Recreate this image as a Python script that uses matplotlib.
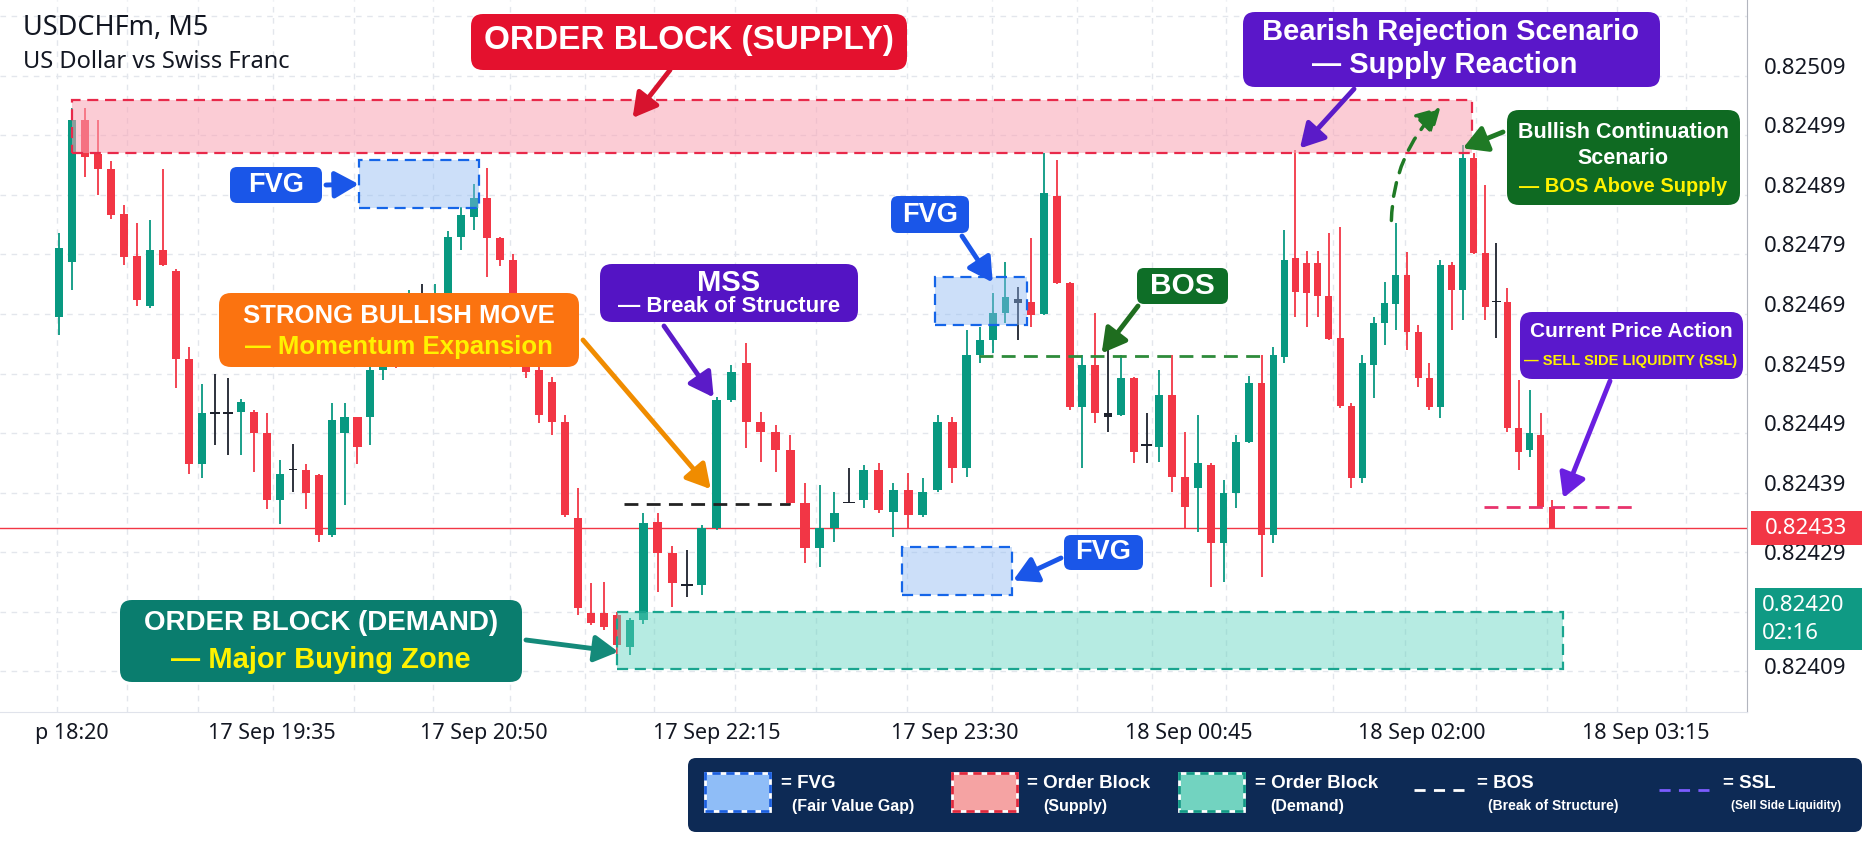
import numpy as np
import matplotlib
matplotlib.use("Agg")
import matplotlib.pyplot as plt
from matplotlib.patches import FancyBboxPatch, Rectangle
from matplotlib.lines import Line2D
from matplotlib.transforms import IdentityTransform, ScaledTranslation, blended_transform_factory

# ---------------- data ----------------
symbol = "USDCHFm, M5"
subtitle = "US Dollar vs Swiss Franc"

opens = [0.824685, 0.824777, 0.825016, 0.824959, 0.824934, 0.824857, 0.824787, 0.824703, 0.824797, 0.824763,
         0.824614, 0.824439, 0.824524, 0.824524, 0.824526, 0.824526, 0.824490, 0.824378, 0.824428, 0.824428,
         0.824420, 0.824319, 0.824490, 0.824517, 0.824517, 0.824596, 0.824630, 0.824620, 0.824660, 0.824660,
         0.824700, 0.824819, 0.824852, 0.824884, 0.824817, 0.824780, 0.824713, 0.824596, 0.824576, 0.824508,
         0.824347, 0.824188, 0.824188, 0.824185, 0.824131, 0.824176, 0.824341, 0.824289, 0.824235, 0.824235,
         0.824331, 0.824545, 0.824607, 0.824508, 0.824492, 0.824461, 0.824373, 0.824297, 0.824331, 0.824374,
         0.824378, 0.824428, 0.824357, 0.824394, 0.824352, 0.824394, 0.824508, 0.824431, 0.824621, 0.824646,
         0.824691, 0.824716, 0.824710, 0.824690, 0.824888, 0.824742, 0.824534, 0.824604, 0.824524, 0.824520,
         0.824582, 0.824470, 0.824467, 0.824554, 0.824416, 0.824398, 0.824436, 0.824305, 0.824389, 0.824475,
         0.824574, 0.824319, 0.824618, 0.824784, 0.824775, 0.824775, 0.824720, 0.824650, 0.824535, 0.824414,
         0.824604, 0.824675, 0.824706, 0.824755, 0.824659, 0.824582, 0.824534, 0.824772, 0.824730, 0.824951,
         0.824792, 0.824711, 0.824710, 0.824498, 0.824461, 0.824487, 0.824366]
highs = [0.824826, 0.825035, 0.825035, 0.825016, 0.824946, 0.824873, 0.824843, 0.824847, 0.824934, 0.824765,
         0.824635, 0.824573, 0.824590, 0.824582, 0.824548, 0.824529, 0.824523, 0.824445, 0.824472, 0.824439,
         0.824421, 0.824540, 0.824540, 0.824517, 0.824607, 0.824650, 0.824670, 0.824730, 0.824740, 0.824740,
         0.824830, 0.824869, 0.824909, 0.824935, 0.824820, 0.824790, 0.824720, 0.824610, 0.824584, 0.824520,
         0.824398, 0.824238, 0.824240, 0.824190, 0.824180, 0.824356, 0.824356, 0.824300, 0.824294, 0.824336,
         0.824550, 0.824604, 0.824641, 0.824525, 0.824503, 0.824487, 0.824406, 0.824403, 0.824391, 0.824431,
         0.824436, 0.824440, 0.824406, 0.824423, 0.824414, 0.824520, 0.824517, 0.824663, 0.824668, 0.824725,
         0.824777, 0.824735, 0.824817, 0.824960, 0.824948, 0.824743, 0.824621, 0.824691, 0.824641, 0.824621,
         0.824584, 0.824524, 0.824596, 0.824621, 0.824492, 0.824520, 0.824440, 0.824411, 0.824487, 0.824586,
         0.824621, 0.824634, 0.824831, 0.824965, 0.824795, 0.824795, 0.824826, 0.824836, 0.824540, 0.824621,
         0.824685, 0.824743, 0.824842, 0.824794, 0.824671, 0.824607, 0.824780, 0.824777, 0.824973, 0.824960,
         0.824906, 0.824809, 0.824733, 0.824579, 0.824562, 0.824524, 0.824378]
lows = [0.824654, 0.824730, 0.824920, 0.824889, 0.824850, 0.824772, 0.824703, 0.824700, 0.824770, 0.824565,
        0.824422, 0.824414, 0.824470, 0.824453, 0.824453, 0.824425, 0.824362, 0.824338, 0.824392, 0.824362,
        0.824308, 0.824316, 0.824369, 0.824438, 0.824470, 0.824580, 0.824600, 0.824610, 0.824630, 0.824640,
        0.824695, 0.824797, 0.824831, 0.824752, 0.824770, 0.824700, 0.824582, 0.824507, 0.824487, 0.824350,
        0.824185, 0.824168, 0.824160, 0.824118, 0.824118, 0.824170, 0.824223, 0.824198, 0.824215, 0.824218,
        0.824327, 0.824543, 0.824465, 0.824441, 0.824425, 0.824369, 0.824272, 0.824265, 0.824307, 0.824372,
        0.824364, 0.824356, 0.824316, 0.824331, 0.824349, 0.824391, 0.824406, 0.824416, 0.824607, 0.824624,
        0.824675, 0.824646, 0.824668, 0.824688, 0.824740, 0.824529, 0.824431, 0.824507, 0.824492, 0.824518,
        0.824440, 0.824440, 0.824441, 0.824391, 0.824331, 0.824324, 0.824232, 0.824240, 0.824364, 0.824473,
        0.824248, 0.824305, 0.824607, 0.824685, 0.824668, 0.824685, 0.824646, 0.824533, 0.824398, 0.824406,
        0.824549, 0.824638, 0.824663, 0.824629, 0.824567, 0.824529, 0.824515, 0.824663, 0.824680, 0.824790,
        0.824680, 0.824649, 0.824492, 0.824428, 0.824450, 0.824364, 0.824330]
closes = [0.824800, 0.825015, 0.824954, 0.824934, 0.824856, 0.824786, 0.824713, 0.824797, 0.824772, 0.824614,
          0.824438, 0.824524, 0.824524, 0.824524, 0.824543, 0.824490, 0.824378, 0.824422, 0.824430, 0.824389,
          0.824319, 0.824512, 0.824517, 0.824467, 0.824596, 0.824630, 0.824620, 0.824660, 0.824660, 0.824700,
          0.824819, 0.824856, 0.824884, 0.824817, 0.824780, 0.824713, 0.824592, 0.824520, 0.824508, 0.824352,
          0.824196, 0.824171, 0.824164, 0.824134, 0.824176, 0.824339, 0.824289, 0.824238, 0.824235, 0.824331,
          0.824545, 0.824592, 0.824508, 0.824492, 0.824461, 0.824373, 0.824297, 0.824331, 0.824356, 0.824374,
          0.824428, 0.824361, 0.824394, 0.824352, 0.824391, 0.824508, 0.824431, 0.824621, 0.824646, 0.824691,
          0.824718, 0.824708, 0.824688, 0.824893, 0.824742, 0.824534, 0.824604, 0.824524, 0.824517, 0.824582,
          0.824458, 0.824470, 0.824554, 0.824416, 0.824366, 0.824440, 0.824305, 0.824389, 0.824475, 0.824574,
          0.824319, 0.824621, 0.824780, 0.824727, 0.824725, 0.824720, 0.824648, 0.824535, 0.824414, 0.824607,
          0.824675, 0.824708, 0.824755, 0.824659, 0.824582, 0.824534, 0.824772, 0.824730, 0.824951, 0.824792,
          0.824701, 0.824711, 0.824498, 0.824458, 0.824490, 0.824366, 0.824330]

xtick_pos = [1.0, 16.4, 32.7, 50.0, 66.2, 84.3, 104.3, 124.4]
xtick_labels = ["p 18:20", "17 Sep 19:35", "17 Sep 20:50", "17 Sep 22:15",
                "17 Sep 23:30", "18 Sep 00:45", "18 Sep 02:00", "18 Sep 03:15"]
ytick_vals = [0.82409, 0.82419, 0.82429, 0.82439, 0.82449, 0.82459,
              0.82469, 0.82479, 0.82489, 0.82499, 0.82509]
last_price = 0.82433
timer_price = 0.82420
timer_text = "02:16"

supply_zone = (0.824960, 0.825050); supply_bars = (1.0, 108.8)
demand_zone = (0.824094, 0.824190); demand_bars = (43.0, 117.0)
fvg_zones = [(0.824868, 0.824948), (0.824671, 0.824752), (0.824218, 0.824299)]
fvg_bars = [(23.1, 32.4), (64.8, 71.7), (62.6, 70.5)]
bos_level = 0.824619; bos_bars = (67.9, 90.4)
mss_level = 0.824371; mss_bars = (43.5, 55.0)
ssl_level = 0.824366; ssl_bars = (109.9, 123.7)

# ---------------- layout ----------------
W, H, DPI = 1870, 841, 100
AX_R, AX_B = 1747, 712
Y_LO, Y_HI = 0.824022, 0.825217
BULL, BEAR, DOJI = "#089981", "#f23645", "#1e222d"

fig = plt.figure(figsize=(W / DPI, H / DPI), dpi=DPI)
fig.patch.set_facecolor("white")
ax = fig.add_axes([0, (H - AX_B) / H, AX_R / W, AX_B / H])
ax.set_facecolor("white")

# uneven bar spacing of the source screenshot
IDX_A = np.array([0, 45, 67, 90, 116], float)
PX_A = np.array([59, 643, 967, 1262, 1552], float)


def _pw(v, xa, ya):
    v = np.asarray(v, float)
    out = np.interp(v, xa, ya)
    s0 = (ya[1] - ya[0]) / (xa[1] - xa[0])
    s1 = (ya[-1] - ya[-2]) / (xa[-1] - xa[-2])
    out = np.where(v < xa[0], ya[0] + (v - xa[0]) * s0, out)
    out = np.where(v > xa[-1], ya[-1] + (v - xa[-1]) * s1, out)
    return out


def fwd(v):
    return _pw(v, IDX_A, PX_A)


def inv(v):
    return _pw(v, PX_A, IDX_A)


ax.set_xscale("function", functions=(fwd, inv))
ax.set_xlim(float(inv(0.0)), float(inv(AX_R)))
ax.set_ylim(Y_LO, Y_HI)

# grid
GRID = "#e3e6ec"
for px in [57, 127, 198, 273, 354, 433, 510, 585, 654, 735, 816, 907, 992, 1077, 1152, 1226,
           1333, 1405, 1476, 1547, 1617, 1686]:
    ax.axvline(float(inv(px)), color=GRID, lw=1, ls=(0, (4, 4)), zorder=0)
for v in ytick_vals + [0.82519]:
    ax.axhline(v, color=GRID, lw=1, ls=(0, (4, 4)), zorder=0)

# candles
o, h, l, c = map(np.array, (opens, highs, lows, closes))
idx = np.arange(len(o))
col = np.where(np.isclose(c, o), DOJI, np.where(c > o, BULL, BEAR))
ax.vlines(idx, l, h, colors=col, lw=1.3, zorder=3)
lo_b = np.minimum(o, c)
hb = np.abs(c - o)
dj = hb < 1e-7
ax.bar(idx, np.where(dj, 2.4e-6, hb), bottom=np.where(dj, lo_b - 1.2e-6, lo_b),
       width=np.where(dj, 0.8, 0.62), color=col, linewidth=0, zorder=4)

# current price line
ax.axhline(last_price, color=BEAR, lw=1.0, zorder=2)


def zone(b, z, fc, ec, alpha):
    ax.add_patch(Rectangle((b[0], z[0]), b[1] - b[0], z[1] - z[0], facecolor=fc, alpha=alpha,
                           edgecolor="none", zorder=5))
    ax.add_patch(Rectangle((b[0], z[0]), b[1] - b[0], z[1] - z[0], facecolor="none",
                           edgecolor=ec, lw=1.6, ls=(0, (5, 3)), zorder=6))


zone(supply_bars, supply_zone, "#f9a3b4", "#e8294a", 0.55)
zone(demand_bars, demand_zone, "#5fd3bf", "#1aa58f", 0.45)
for b, z in zip(fvg_bars, fvg_zones):
    zone(b, z, "#8fbaf3", "#1565e8", 0.45)

ax.hlines(mss_level, *mss_bars, colors="#222222", lw=2, linestyles=(0, (5, 3)), zorder=6)
ax.hlines(bos_level, *bos_bars, colors="#2e8b3a", lw=2, linestyles=(0, (5, 3)), zorder=6)
ax.hlines(ssl_level, *ssl_bars, colors="#e8336d", lw=2, linestyles=(0, (5, 3)), zorder=6)

# axes styling
for s in ("top", "left"):
    ax.spines[s].set_visible(False)
ax.spines["right"].set_color("#b2b5be")
ax.spines["bottom"].set_color("#e0e3eb")
ax.yaxis.tick_right()
ax.set_xticks(xtick_pos)
ax.set_xticklabels(xtick_labels)
ax.set_yticks(ytick_vals)
ax.set_yticklabels([f"{v:.5f}" for v in ytick_vals])
ax.tick_params(axis="x", length=0, pad=8, labelsize=15.5, labelcolor="#131722")
ax.tick_params(axis="y", length=0, pad=12, labelsize=16, labelcolor="#131722")
for lab in ax.get_xticklabels() + ax.get_yticklabels():
    lab.set_fontfamily("Noto Sans")
ticks = ax.yaxis.get_major_ticks()
for v, t in zip(ytick_vals, ticks):
    dy = 0.10
    if abs(v - 0.82429) < 1e-9:
        dy = 0.0
    elif abs(v - 0.82409) < 1e-9:
        dy = 0.05
    t.label2.set_transform(t.label2.get_transform() + ScaledTranslation(0, dy, fig.dpi_scale_trans))

# price badges on the axis
bt = blended_transform_factory(IdentityTransform(), ax.transData)
bh = 34 / 5.96e5
ax.add_patch(Rectangle((1751, last_price - bh / 2), 111, bh, transform=bt, facecolor=BEAR,
                       edgecolor="none", clip_on=False, zorder=10))
ax.text(1806, last_price, f"{last_price:.5f}", transform=bt, ha="center", va="center",
        color="white", fontsize=16, family="Noto Sans", clip_on=False, zorder=11)
gh = 62 / 5.96e5
gc = 0.824178
ax.add_patch(Rectangle((1755, gc - gh / 2), 107, gh, transform=bt, facecolor="#0f9a84",
                       edgecolor="none", clip_on=False, zorder=10))
ax.text(1762, gc + gh * 0.22, f"{timer_price:.5f}", transform=bt, ha="left", va="center",
        color="white", fontsize=16, family="Noto Sans", clip_on=False, zorder=11)
ax.text(1762, gc - gh * 0.24, timer_text, transform=bt, ha="left", va="center",
        color="white", fontsize=16, family="Noto Sans", clip_on=False, zorder=11)

# title
fig.text(23 / W, 1 - 28 / H, symbol, ha="left", va="center", fontsize=19.5, color="#131722",
         family="Noto Sans")
fig.text(23 / W, 1 - 62 / H, subtitle, ha="left", va="center", fontsize=17, color="#131722",
         family="Noto Sans")

ARIAL = ["Liberation Sans", "DejaVu Sans"]
YEL = "#fff200"


def box(x0, y0, x1, y1, color, r=10, z=20):
    p = FancyBboxPatch((x0, H - y1), x1 - x0, y1 - y0, boxstyle=f"round,pad=0,rounding_size={r}",
                       transform=IdentityTransform(), facecolor=color, edgecolor="none", zorder=z)
    fig.add_artist(p)


def txt(x, y, s, size, color="white", fam=ARIAL, ha="center"):
    fig.text(x / W, 1 - y / H, s, ha=ha, va="center", fontsize=size, color=color,
             family=fam, fontweight="bold", zorder=22)


def arrow(tail, head, color, lw=3.5, ls="-", rad=0.0, ms=18, tail_data=False):
    if tail_data:
        kw = dict(xytext=tail, textcoords="data")
    else:
        kw = dict(xytext=(tail[0], H - tail[1]), textcoords="figure pixels")
    ax.annotate("", xy=head, xycoords="data", annotation_clip=False, zorder=15,
                arrowprops=dict(arrowstyle="-|>,head_length=0.8,head_width=0.45", color=color,
                                lw=lw, ls=ls, shrinkA=0, shrinkB=0, mutation_scale=ms,
                                connectionstyle=f"arc3,rad={rad}"), **kw)


# ORDER BLOCK (SUPPLY)
box(471, 14, 907, 70, "#e4112e", r=12)
txt(689, 41, "ORDER BLOCK (SUPPLY)", 24)
arrow((670, 70), (44.2, 0.825019), "#d7132e")

# FVG badges
box(230, 167, 322, 203, "#1a56e8", r=7)
txt(276, 185, "FVG", 19.5)
arrow((326, 185), (23.1, 0.824908), "#1a56e8")
box(891, 196, 969, 233, "#1a56e8", r=7)
txt(930, 215, "FVG", 19.5)
arrow((962, 236), (69.0, 0.824743), "#1a56e8")
box(1064, 535, 1143, 570, "#1a56e8", r=7)
txt(1103, 552, "FVG", 19.5)
arrow((1061, 558), (70.6, 0.824243), "#1a56e8")

# STRONG BULLISH MOVE
box(219, 293, 579, 367, "#fb7310", r=12)
txt(399, 316, "STRONG BULLISH MOVE", 18.5)
txt(399, 347, "— Momentum Expansion", 18.5, color=YEL)
arrow((583, 340), (49.6, 0.824396), "#f08c00")

# MSS
box(600, 264, 858, 322, "#5414c4", r=12)
txt(729, 283, "MSS", 21)
txt(729, 307, "— Break of Structure", 16)
arrow((664, 326), (49.8, 0.824550), "#5b1bc8")

# BOS
box(1137, 268, 1228, 304, "#0e6e27", r=7)
txt(1182, 286, "BOS", 21.5)
arrow((1138, 306), (77.5, 0.824624), "#1f6d1f")

# ORDER BLOCK (DEMAND)
box(120, 600, 522, 682, "#0a7d6e", r=12)
txt(321, 623, "ORDER BLOCK (DEMAND)", 20)
txt(321, 660, "— Major Buying Zone", 21, color=YEL)
arrow((526, 640), (43.1, 0.824123), "#148a7a")

# Bearish rejection
box(1243, 12, 1660, 87, "#5a17c9", r=12)
txt(1450, 32, "Bearish Rejection Scenario", 21)
txt(1445, 65, "— Supply Reaction", 21)
arrow((1354, 89), (93.4, 0.824968), "#5b1bc8")

# Green dashed continuation path
arrow((101.6, 0.824847), (106.0, 0.825037), "#1f7a25", lw=2.5, ls=(0, (4, 3)), rad=-0.2,
      tail_data=True)

# Bullish continuation
box(1507, 110, 1740, 205, "#0f6a22", r=12)
txt(1623, 132, "Bullish Continuation", 15.5)
txt(1623, 159, "Scenario", 15.5)
txt(1623, 186, "— BOS Above Supply", 14.5, color=YEL)
arrow((1503, 132), (108.0, 0.824968), "#1f7a25")

# Current price action
box(1520, 312, 1743, 379, "#5a18cc", r=12)
txt(1631, 332, "Current Price Action", 15)
txt(1631, 361, "— SELL SIDE LIQUIDITY (SSL)", 10.5, color=YEL)
arrow((1610, 381), (117.0, 0.824381), "#6a1fe0")

# legend panel
box(688, 758, 1862, 832, "#0d2a55", r=8, z=20)


def lsq(x0, color, edge):
    for ec, ls in (("white", "-"), (edge, (0, (3, 2)))):
        p = Rectangle((x0, H - 811), 65, 38, transform=IdentityTransform(),
                      facecolor=color if ls == "-" else "none", edgecolor=ec, lw=2, ls=ls, zorder=21)
        fig.add_artist(p)


lsq(705, "#8fbdf7", "#1a5fe0")
lsq(952, "#f5a3a3", "#e0283c")
lsq(1179, "#72d3c0", "#109a85")
fig.add_artist(Line2D([1414, 1469], [H - 790, H - 790], transform=IdentityTransform(), color="white",
                      lw=2, ls=(0, (4, 3)), zorder=21))
fig.add_artist(Line2D([1659, 1716], [H - 790, H - 790], transform=IdentityTransform(), color="#7c5cff",
                      lw=2, ls=(0, (4, 3)), zorder=21))
for x1, x2, t1, t2, s2 in [(781, 792, "= FVG", "(Fair Value Gap)", 11.5),
                           (1027, 1043, "= Order Block", "(Supply)", 11.5),
                           (1255, 1270, "= Order Block", "(Demand)", 11.5),
                           (1477, 1488, "= BOS", "(Break of Structure)", 10),
                           (1723, 1731, "= SSL", "(Sell Side Liquidity)", 8.5)]:
    txt(x1, 783, t1, 13.5, ha="left")
    txt(x2, 806, t2, s2, ha="left")

fig.savefig("out.png", dpi=DPI, facecolor="white")
